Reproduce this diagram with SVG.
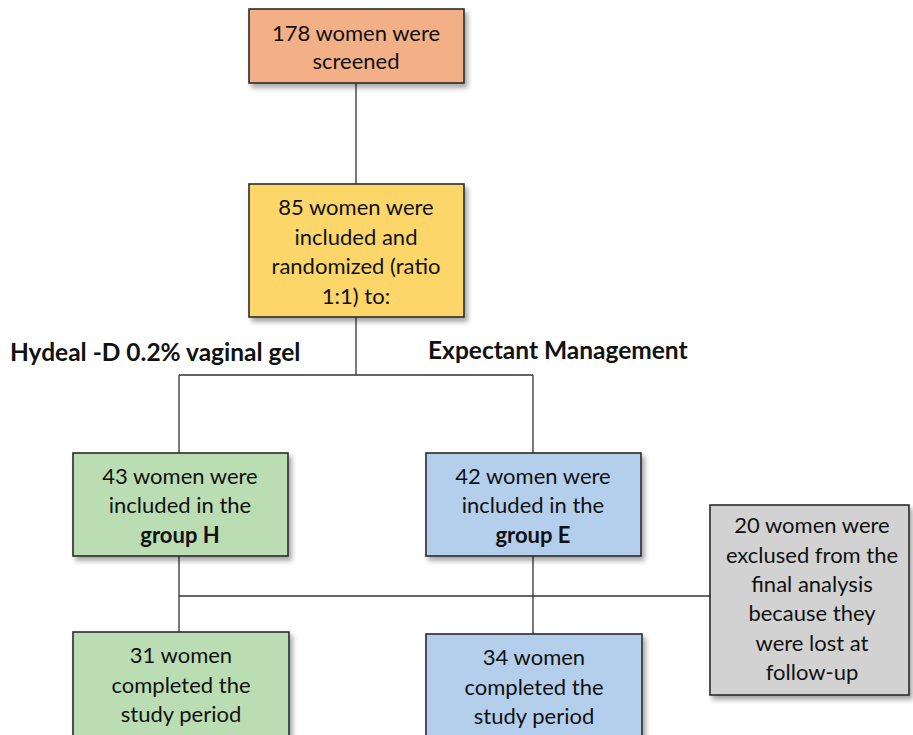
<svg xmlns="http://www.w3.org/2000/svg" width="913" height="735" viewBox="0 0 913 735">
<defs>
<filter id="sh" x="-10%" y="-10%" width="125%" height="130%">
<feDropShadow dx="3" dy="4" stdDeviation="2.5" flood-color="#000" flood-opacity="0.35"/>
</filter>
<style>
.box{stroke:#2b2b2b;stroke-width:1.6;filter:url(#sh)}
.t{font-family:Lato,"Open Sans","Liberation Sans",sans-serif;font-size:22px;fill:#111;text-anchor:middle}
.b{font-weight:bold}
.lbl{font-family:Lato,"Open Sans","Liberation Sans",sans-serif;font-size:24.5px;font-weight:bold;fill:#111}
.ln{stroke:#333;stroke-width:1.3;fill:none}
</style>
</defs>
<rect width="913" height="735" fill="#fff"/>
<g id="connectors">
<path class="ln" d="M356 83V184M356 317V375M179 375H533M179 375V453M533 375V453"/>
<path class="ln" d="M179 556V632M533 556V634M179 596H710"/>
</g>
<g id="screened">
<rect class="box" x="249" y="9" width="215" height="74" fill="#F3AF86"/>
<text class="t" x="356" y="41">178 women were</text>
<text class="t" x="356" y="69">screened</text>
</g>
<g id="randomized">
<rect class="box" x="249" y="184" width="215" height="133" fill="#FCD668"/>
<text class="t" x="356" y="215">85 women were</text>
<text class="t" x="356" y="245">included and</text>
<text class="t" x="356" y="274">randomized (ratio</text>
<text class="t" x="356" y="304">1:1) to:</text>
</g>
<g id="label-h">
<text class="lbl" x="10" y="361">Hydeal -D 0.2% vaginal gel</text>
</g>
<g id="label-e">
<text class="lbl" x="428" y="359">Expectant Management</text>
</g>
<g id="groupH">
<rect class="box" x="73" y="453" width="215" height="103" fill="#BBDDB3"/>
<text class="t" x="180" y="484">43 women were</text>
<text class="t" x="180" y="513">included in the</text>
<text class="t b" x="180" y="543">group H</text>
</g>
<g id="groupE">
<rect class="box" x="426" y="453" width="215" height="103" fill="#B3CFEC"/>
<text class="t" x="533" y="484">42 women were</text>
<text class="t" x="533" y="513">included in the</text>
<text class="t b" x="533" y="543">group E</text>
</g>
<g id="excluded">
<rect class="box" x="710" y="505" width="199" height="190" fill="#D2D2D2"/>
<text class="t" x="812" y="533">20 women were</text>
<text class="t" x="812" y="563">exclused from the</text>
<text class="t" x="812" y="592">final analysis</text>
<text class="t" x="812" y="621">because they</text>
<text class="t" x="812" y="651">were lost at</text>
<text class="t" x="812" y="680">follow-up</text>
</g>
<g id="completedH">
<rect class="box" x="73" y="632" width="216" height="115" fill="#BBDDB3"/>
<text class="t" x="181" y="663">31 women</text>
<text class="t" x="181" y="693">completed the</text>
<text class="t" x="181" y="722">study period</text>
</g>
<g id="completedE">
<rect class="box" x="426" y="634" width="216" height="115" fill="#B3CFEC"/>
<text class="t" x="534" y="665">34 women</text>
<text class="t" x="534" y="695">completed the</text>
<text class="t" x="534" y="724">study period</text>
</g>
</svg>
